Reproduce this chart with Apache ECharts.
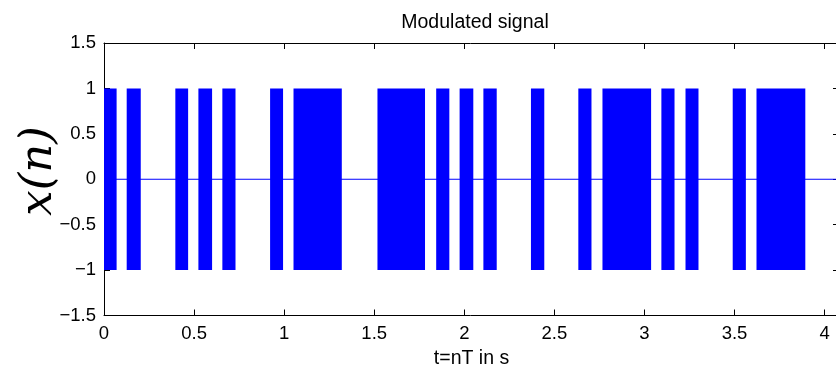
<!DOCTYPE html>
<html>
<head>
<meta charset="utf-8">
<style>
  html, body { margin: 0; padding: 0; background: #fff; }
  #chart { width: 836px; height: 367px; }
</style>
<script src="https://cdn.jsdelivr.net/npm/echarts@6/dist/echarts.min.js"></script>
</head>
<body>
<div id="chart"></div>
<script>
// ---- data ----
const titleText = 'Modulated signal';
const xAxisName = 't=nT in s';
const yAxisName = 'x(n)';
const xMin = 0;
const xMax = 4.08;
const yMin = -1.5;
const yMax = 1.5;
const carrierLow = -1;
const carrierHigh = 1;
// intervals (seconds) where the carrier is on
const onStart = [0.000, 0.126, 0.396, 0.524, 0.657, 0.922, 1.052, 1.518, 1.844, 1.974, 2.106, 2.370, 2.633, 2.767, 3.094, 3.228, 3.490, 3.622];
const onEnd   = [0.070, 0.204, 0.467, 0.600, 0.730, 0.994, 1.320, 1.782, 1.917, 2.050, 2.180, 2.444, 2.706, 3.037, 3.167, 3.300, 3.563, 3.893];
// baseline (signal off) level
const offLine = [[0, 0], [4.08, 0]];

const segData = onStart.map((s, i) => [s, onEnd[i], carrierLow, carrierHigh]);

const chart = echarts.init(document.getElementById('chart'), null, { renderer: 'canvas' });
const FONT = 'Liberation Sans, Arial, Helvetica, sans-serif';
const fmt = v => String(v).replace('-', '\u2212');

const axisCommon = {
  type: 'value',
  axisLine: { show: true, onZero: false, lineStyle: { color: '#000', width: 1 } },
  axisTick: { show: true, inside: true, length: 6, lineStyle: { color: '#000', width: 1 } },
  splitLine: { show: false }
};

chart.setOption({
  animation: false,
  backgroundColor: '#fff',
  title: {
    text: titleText,
    left: 470, top: 8, textAlign: 'center',
    textStyle: { fontFamily: FONT, fontSize: 19.5, fontWeight: 'normal', color: '#000' }
  },
  grid: { left: 104, right: -3, top: 43, bottom: 51.5, containLabel: false, outerBoundsMode: 'none' },
  xAxis: [
    Object.assign({}, axisCommon, {
      position: 'bottom', min: xMin, max: xMax, interval: 0.5,
      axisLabel: { show: true, showMaxLabel: false, margin: 9, formatter: fmt,
        fontFamily: FONT, fontSize: 18.5, color: '#000' },
      name: xAxisName, nameLocation: 'middle', nameGap: 33,
      nameTextStyle: { fontFamily: FONT, fontSize: 19.5, color: '#000' }
    }),
    Object.assign({}, axisCommon, {
      position: 'top', min: xMin, max: xMax, interval: 0.5,
      axisLabel: { show: false }
    })
  ],
  yAxis: [
    Object.assign({}, axisCommon, {
      position: 'left', min: yMin, max: yMax, interval: 0.5,
      axisLabel: { show: true, margin: 8, formatter: fmt,
        fontFamily: FONT, fontSize: 18.5, color: '#000' }
    }),
    Object.assign({}, axisCommon, {
      position: 'right', min: yMin, max: yMax, interval: 0.5,
      axisLabel: { show: false }
    })
  ],
  graphic: [{
    type: 'text',
    x: 39, y: 171,
    rotation: Math.PI / 2,
    style: {
      text: yAxisName,
      fontFamily: 'DejaVu Serif, serif',
      fontStyle: 'italic',
      fontSize: 45,
      fill: '#000',
      align: 'center',
      verticalAlign: 'middle'
    }
  }],
  series: [
    {
      type: 'line',
      data: offLine,
      xAxisIndex: 0, yAxisIndex: 0,
      symbol: 'none',
      lineStyle: { color: '#0000ff', width: 1 },
      z: 1
    },
    {
      type: 'custom',
      xAxisIndex: 0, yAxisIndex: 0,
      data: segData,
      encode: { x: [0, 1], y: [2, 3] },
      renderItem: function (params, api) {
        const p0 = api.coord([api.value(0), api.value(3)]);
        const p1 = api.coord([api.value(1), api.value(2)]);
        return {
          type: 'rect',
          shape: { x: p0[0], y: p0[1], width: p1[0] - p0[0], height: p1[1] - p0[1] },
          style: { fill: '#0000ff' }
        };
      },
      z: 2
    }
  ]
});
</script>
</body>
</html>
